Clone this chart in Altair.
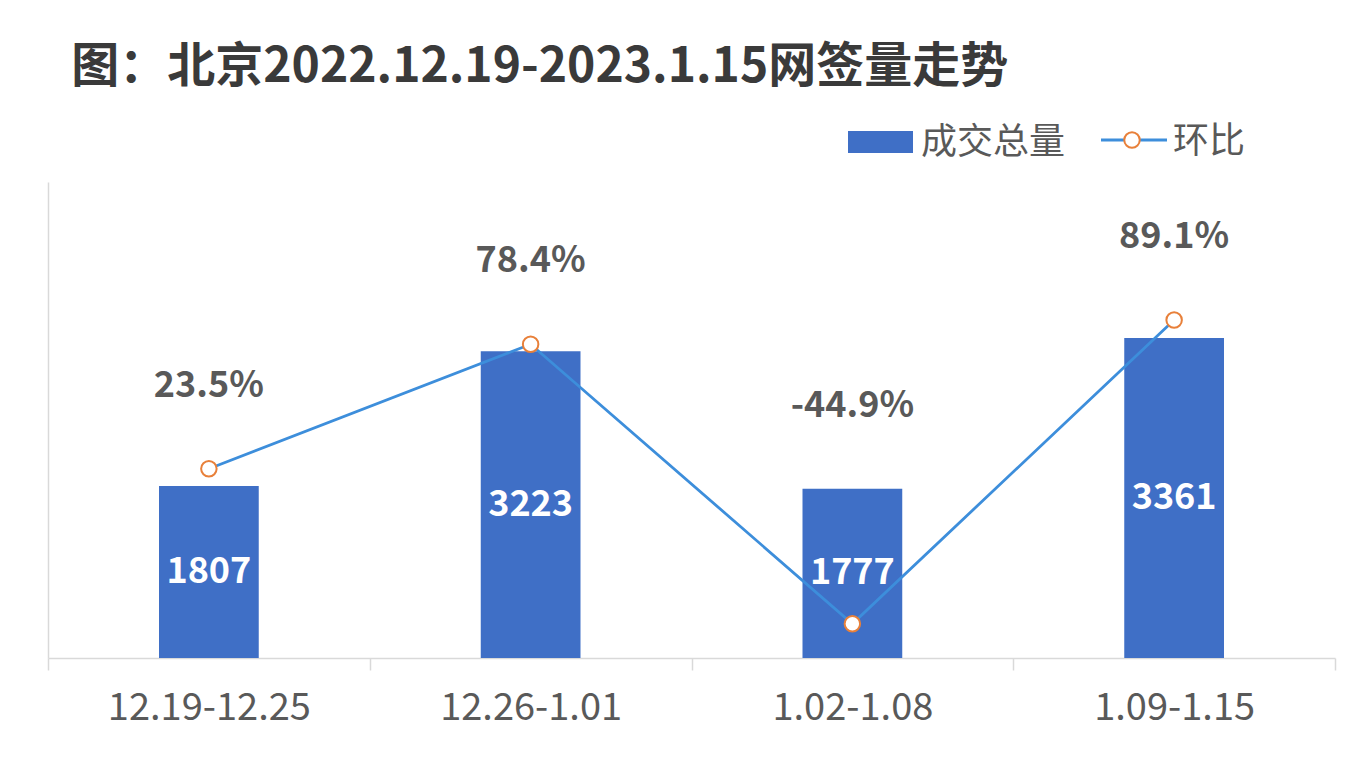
import altair as alt
import pandas as pd

categories = ["12.19-12.25", "12.26-1.01", "1.02-1.08", "1.09-1.15"]
volumes = [1807, 3223, 1777, 3361]
ratios = [23.5, 78.4, -44.9, 89.1]
ratio_labels = ["23.5%", "78.4%", "-44.9%", "89.1%"]
legend_bar = ["成交总量"]
legend_line = ["环比"]
title_text = "图：北京2022.12.19-2023.1.15网签量走势"

df = pd.DataFrame({"period": categories, "volume": volumes,
                   "ratio": ratios, "ratio_label": ratio_labels})

FONT = "Noto Sans CJK SC"
BAR = "#3F6FC6"
LINE = "#3D8EDB"
MARK = "#E8803A"
GRAY = "#595959"
AXIS = "#D9D9D9"
VOL_DOMAIN = [0, 5000]
RATIO_DOMAIN = [-60, 150]

x = alt.X("period:N", sort=categories, title=None,
          scale=alt.Scale(paddingInner=0, paddingOuter=0),
          axis=alt.Axis(labelAngle=0, labelFont=FONT, labelFontSize=38,
                        labelColor=GRAY, labelLimit=400, domainColor=AXIS,
                        tickColor=AXIS, tickSize=12, tickBand="extent",
                        labelPadding=19, domainWidth=1.5, tickWidth=1.5))

base = alt.Chart(df)

bars = base.mark_bar(color=BAR, width=alt.RelativeBandSize(0.31)).encode(
    x=x,
    y=alt.Y("volume:Q", title=None, scale=alt.Scale(domain=VOL_DOMAIN),
            axis=alt.Axis(domain=True, domainColor=AXIS, domainWidth=1.5,
                          ticks=False, labels=False, grid=False)),
)

bar_text = base.transform_calculate(half="datum.volume / 2").mark_text(
    color="white", font=FONT, fontSize=36, fontWeight="bold", baseline="middle"
).encode(
    x=x,
    y=alt.Y("half:Q", scale=alt.Scale(domain=VOL_DOMAIN), axis=None),
    text="volume:Q",
)

line = base.mark_line(color=LINE, strokeWidth=2.8).encode(
    x=x,
    y=alt.Y("ratio:Q", scale=alt.Scale(domain=RATIO_DOMAIN), axis=None),
)

points = base.mark_point(shape="circle", filled=True, fill="white", stroke=MARK,
                         strokeWidth=2, size=240, opacity=1).encode(
    x=x,
    y=alt.Y("ratio:Q", scale=alt.Scale(domain=RATIO_DOMAIN), axis=None),
)

pct_text = base.transform_calculate(
    pos="max(datum.volume, (datum.ratio + 60) / 210 * 5000)"
).mark_text(color=GRAY, font=FONT, fontSize=36, fontWeight="bold",
            baseline="middle", dy=-83).encode(
    x=x,
    y=alt.Y("pos:Q", scale=alt.Scale(domain=VOL_DOMAIN), axis=None),
    text="ratio_label:N",
)

leg_bar_data = alt.Data(values=[{"label": v} for v in legend_bar])
leg_line_data = alt.Data(values=[{"label": v} for v in legend_line])

leg_rect = alt.Chart(leg_bar_data).mark_rect(color=BAR).encode(
    x=alt.value(800), x2=alt.value(865), y=alt.value(-51), y2=alt.value(-29))
leg_rect_text = alt.Chart(leg_bar_data).mark_text(
    align="left", baseline="middle", font=FONT, fontSize=36, color=GRAY
).encode(x=alt.value(873), y=alt.value(-39), text="label:N")
leg_rule = alt.Chart(leg_line_data).mark_rule(color=LINE, strokeWidth=3).encode(
    x=alt.value(1053), x2=alt.value(1119), y=alt.value(-42))
leg_point = alt.Chart(leg_line_data).mark_point(
    shape="circle", filled=True, fill="white", stroke=MARK, strokeWidth=2,
    size=240, opacity=1).encode(x=alt.value(1084), y=alt.value(-42))
leg_line_text = alt.Chart(leg_line_data).mark_text(
    align="left", baseline="middle", font=FONT, fontSize=36, color=GRAY
).encode(x=alt.value(1125), y=alt.value(-40), text="label:N")

chart = alt.layer(
    bars, bar_text, line, points, pct_text,
    leg_rect, leg_rect_text, leg_rule, leg_point, leg_line_text
).resolve_scale(y="independent").properties(
    width=1287, height=476,
    padding={"left": 40, "top": 174, "right": 21, "bottom": 106},
    autosize=alt.AutoSizeParams(type="none"),
    title=alt.TitleParams(title_text, anchor="start", font=FONT, fontSize=48,
                          fontWeight="bold", color="#3A3A3A", dx=24, offset=32),
).configure_view(stroke=None)

chart.save("out.html", embed_options={"renderer": "svg", "actions": False})
